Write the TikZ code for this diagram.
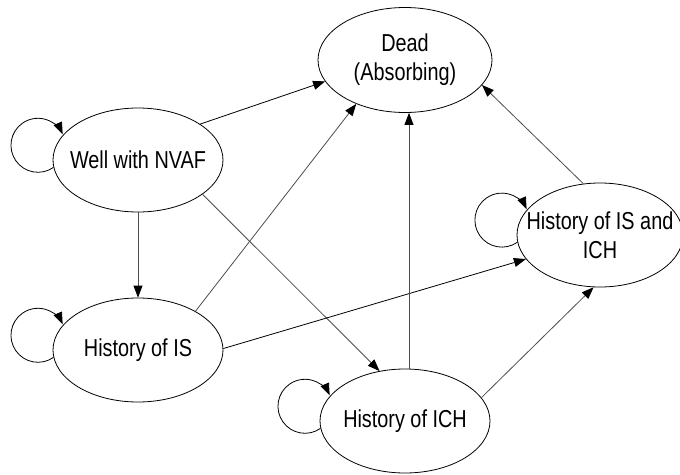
\documentclass[tikz,border=0pt]{standalone}
\usepackage{fontspec}
\setmainfont{Liberation Sans}[FakeStretch=0.81]
\usetikzlibrary{shapes.geometric,arrows.meta}

% self-transition drawn as a small circle on the left of a state
\newcommand\selfloop[1]{\draw[loopedge] (#1.185) arc[start angle=-55,end angle=-336,radius=27];}

\begin{document}
\begin{tikzpicture}[x=1pt,y=1pt,
  state/.style={ellipse, draw, line width=0.8pt, minimum width=170pt, minimum height=104pt,
    inner sep=0pt, align=center, font=\fontsize{24.5}{29}\selectfont},
  tip/.style={-{Triangle[length=12pt,width=9pt]}},
  edge/.style={tip, line width=0.8pt, draw=black},
  softedge/.style={line width=0.8pt, draw=black!70, arrows={-{Triangle[length=12pt,width=9pt,fill=black,color=black]}}},
  loopedge/.style={tip, line width=0.8pt, draw=black}]

\useasboundingbox (0,0) rectangle (680,-474);
\clip (0,0) rectangle (680,-474);

% states
\node[state, minimum width=174pt, minimum height=105pt] (d) at (405,-60)
  {\makebox[0pt]{Dead}\\\makebox[0pt]{(Absorbing)}};
\node[state] (w) at (138,-160) {\makebox[0pt]{Well with NVAF}};
\node[state] (s) at (138,-350) {\makebox[0pt]{History of IS}};
\node[state] (c) at (405,-421) {\makebox[0pt]{History of ICH}};
\node[state, minimum width=166pt] (b) at (600,-235)
  {\makebox[0pt]{History of IS and}\\\makebox[0pt]{ICH}};

% self-transitions
\selfloop{w}
\selfloop{s}
\selfloop{c}
\selfloop{b}

% transitions between states
\draw[edge] (w.30) -- (d.195);
\draw[softedge] (w.south) -- (s.north);
\draw[softedge] (w.332) -- (c.117);
\draw[softedge] (s.34) -- (d.222);
\draw[edge] (s.1) -- (b.198);
\draw[softedge] ([xshift=4pt]c.north) -- ([xshift=4pt]d.south);
\draw[softedge] (c.17) -- (b.263);
\draw[softedge] (b.108) -- (d.342);
\end{tikzpicture}
\end{document}
